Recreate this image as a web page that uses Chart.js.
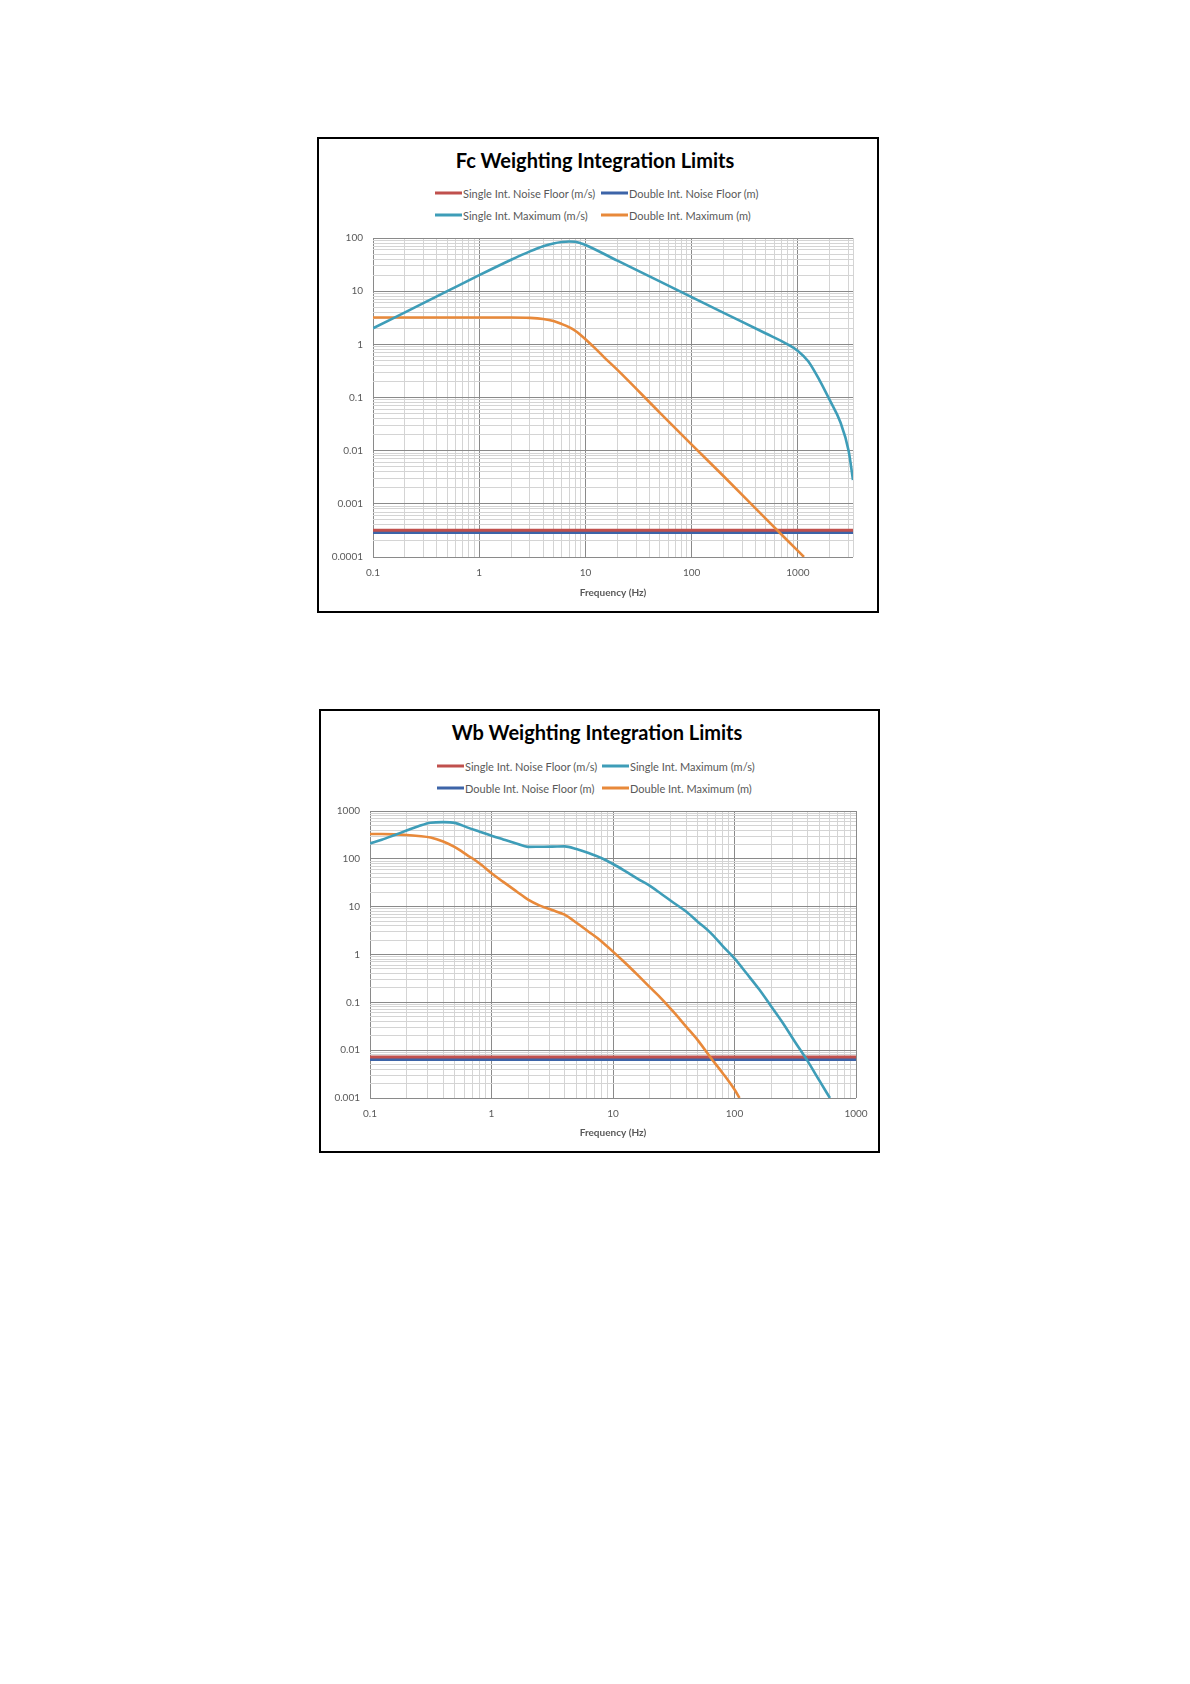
<!DOCTYPE html>
<html lang="en">
<head>
<meta charset="UTF-8">
<title>Integration Limits</title>
<script src="https://cdn.jsdelivr.net/npm/chart.js"></script>
<style>
  body { margin: 0; background: #fff; width: 1190px; height: 1684px; position: relative; font-family: Lato, "Liberation Sans", sans-serif; }
  .box { position: absolute; box-sizing: border-box; border: 2px solid #000; background: #fff; }
  .titulo { position: absolute; font-weight: bold; font-size: 20px; line-height: 24px; color: #000; white-space: nowrap; transform: translate(-50%, -50%); }
  .item { position: absolute; display: flex; align-items: center; transform: translateY(-50%); font-size: 11px; color: #595959; white-space: nowrap; }
  .item i { display: inline-block; width: 27px; height: 3px; margin-right: 1px; }
  .grafico { position: absolute; }
</style>
</head>
<body>

<div class="box" id="boxFc" style="left:317px; top:137px; width:562px; height:476px;">
  <div class="titulo" style="left:276px; top:21px;">Fc Weighting Integration Limits</div>
  <div id="legFc"></div>
  <div class="grafico" style="left:0; top:83px; width:558px; height:389px;">
    <canvas id="graficoFc" width="558" height="389"></canvas>
  </div>
</div>

<div class="box" id="boxWb" style="left:319px; top:709px; width:561px; height:444px;">
  <div class="titulo" style="left:276px; top:21px;">Wb Weighting Integration Limits</div>
  <div id="legWb"></div>
  <div class="grafico" style="left:0; top:84px; width:557px; height:356px;">
    <canvas id="graficoWb" width="557" height="356"></canvas>
  </div>
</div>

<script>
  // ---- Fc weighting ----
  const fcXLabels = ['0.1', '1', '10', '100', '1000']
  const fcYLabels = ['0.0001', '0.001', '0.01', '0.1', '1', '10', '100']
  const fcNoiseFreq = [0.1, 3300]
  const fcSingleNoise = [0.00032, 0.00032]
  const fcDoubleNoise = [0.00029, 0.00029]
  const fcSingleMaxFreq = [0.1, 0.2, 0.5, 1, 2, 3, 4, 5, 6, 7, 8, 9, 10, 20, 50, 100, 200, 500, 800, 1000, 1250, 1600, 2000, 2500, 3000, 3300]
  const fcSingleMax = [2.0, 4.0, 10, 20, 39, 56, 70, 79, 84, 86, 85, 80, 74, 37.5, 15.3, 7.7, 3.9, 1.6, 1.0, 0.75, 0.48, 0.21, 0.088, 0.035, 0.010, 0.0028]
  const fcDoubleMaxFreq = [0.1, 1, 2, 3, 4, 5, 6, 7, 8, 9, 10, 12.5, 15, 20, 50, 100, 200, 500, 1000, 1140]
  const fcDoubleMax = [3.2, 3.2, 3.2, 3.15, 3.0, 2.75, 2.4, 2.1, 1.8, 1.5, 1.25, 0.82, 0.57, 0.33, 0.052, 0.013, 0.0033, 0.00052, 0.00013, 0.0001]

  // ---- Wb weighting ----
  const wbXLabels = ['0.1', '1', '10', '100', '1000']
  const wbYLabels = ['0.001', '0.01', '0.1', '1', '10', '100', '1000']
  const wbNoiseFreq = [0.1, 1000]
  const wbSingleNoise = [0.0072, 0.0072]
  const wbDoubleNoise = [0.0064, 0.0064]
  const wbSingleMaxFreq = [0.1, 0.125, 0.16, 0.2, 0.25, 0.315, 0.4, 0.5, 0.63, 0.8, 1, 1.25, 1.6, 2, 2.5, 3.15, 4, 5, 6.3, 8, 10, 12.5, 16, 20, 25, 31.5, 40, 50, 63, 80, 100, 125, 160, 200, 250, 315, 400, 500, 610]
  const wbSingleMax = [210, 250, 315, 390, 480, 570, 585, 565, 455, 370, 305, 255, 210, 178, 179, 180, 182, 160, 132, 104, 78, 56, 38, 27.5, 18.4, 12.1, 7.9, 4.8, 2.9, 1.5, 0.83, 0.41, 0.185, 0.083, 0.037, 0.0148, 0.0059, 0.0023, 0.001]
  const wbDoubleMaxFreq = [0.1, 0.125, 0.16, 0.2, 0.25, 0.315, 0.4, 0.5, 0.63, 0.8, 1, 1.25, 1.6, 2, 2.5, 3.15, 4, 5, 6.3, 8, 10, 12.5, 16, 20, 25, 31.5, 40, 50, 63, 80, 100, 110]
  const wbDoubleMax = [330, 330, 325, 315, 300, 278, 230, 175, 120, 80, 50, 33, 21, 14, 10.5, 8.5, 6.8, 4.6, 3.0, 1.9, 1.15, 0.68, 0.37, 0.21, 0.12, 0.063, 0.031, 0.016, 0.0072, 0.0033, 0.0015, 0.001]

  const nomes = {
    sn: 'Single Int. Noise Floor (m/s)',
    dn: 'Double Int. Noise Floor (m)',
    sm: 'Single Int. Maximum (m/s)',
    dm: 'Double Int. Maximum (m)'
  }
  const cores = { sn: '#C0504D', dn: '#3D64A8', sm: '#3E9DB8', dm: '#E8893A' }

  const fonte = 'Lato, "Liberation Sans", sans-serif'

  function pares(xs, ys) {
    const out = []
    for (let i = 0; i < xs.length; i++) out.push({ x: xs[i], y: ys[i] })
    return out
  }

  // ticks 1..9 de cada decada (para as linhas de grade)
  function ticksLog(min, max) {
    const lista = []
    for (let k = Math.floor(Math.log10(min)); Math.pow(10, k) <= max; k++) {
      for (let m = 1; m <= 9; m++) {
        const v = Number((m * Math.pow(10, k)).toPrecision(6))
        if (v >= min * 0.999 && v <= max * 1.001) lista.push(v)
      }
    }
    if (lista[lista.length - 1] < max * 0.999) lista.push(max)
    return lista
  }

  function ehDecada(v) {
    const lg = Math.log10(v)
    return Math.abs(lg - Math.round(lg)) < 1e-6
  }

  function rotulo(v, labels, min) {
    if (!ehDecada(v)) return ''
    const i = Math.round(Math.log10(v)) - Math.round(Math.log10(min))
    return labels[i] || ''
  }

  function corGrade(ctx) {
    if (!ctx.tick) return '#d4d4d4'
    return ehDecada(ctx.tick.value) ? '#8a8a8a' : '#d4d4d4'
  }

  function escala(min, max, labels, extra) {
    return Object.assign({
      type: 'logarithmic',
      min: min,
      max: max,
      afterBuildTicks: function (s) {
        s.ticks = ticksLog(min, max).map(function (v) { return { value: v } })
      },
      grid: { drawTicks: false, color: corGrade, lineWidth: 1 },
      border: { display: false }
    }, extra)
  }

  function legenda(id, ordem, col2, y1, y2) {
    const el = document.getElementById(id)
    const pos = [[0, y1], [col2, y1], [0, y2], [col2, y2]]
    for (let i = 0; i < ordem.length; i++) {
      const d = document.createElement('div')
      d.className = 'item'
      d.style.left = (pos[i][0] + 116) + 'px'
      d.style.top = pos[i][1] + 'px'
      d.innerHTML = '<i style="background:' + cores[ordem[i]] + '"></i>' + nomes[ordem[i]]
      el.appendChild(d)
    }
  }

  function desenhar(canvasId, cfg) {
    const linhas = cfg.ordem.map(function (k) {
      return {
        label: nomes[k],
        data: pares(cfg.freq[k], cfg.vals[k]),
        borderColor: cores[k],
        backgroundColor: cores[k],
        borderWidth: (k === 'sn' || k === 'dn') ? 3 : 2.6,
        pointRadius: 0,
        fill: false,
        cubicInterpolationMode: 'monotone',
        order: k === 'sn' ? 1 : (k === 'dn' ? 2 : 0)
      }
    })

    new Chart(document.getElementById(canvasId).getContext('2d'), {
      type: 'line',
      data: { datasets: linhas },
      options: {
        responsive: false,
        animation: false,
        layout: { padding: { left: 0, right: cfg.padRight, top: cfg.padTop, bottom: 0 } },
        plugins: { legend: { display: false }, title: { display: false }, tooltip: { enabled: false } },
        scales: {
          x: escala(cfg.xmin, cfg.xmax, cfg.xLabels, {
            afterFit: function (s) { s.height = cfg.alturaX },
            ticks: {
              autoSkip: false, maxRotation: 0, padding: cfg.xPad, color: '#595959',
              font: { family: fonte, size: 10 },
              callback: function (v) { return rotulo(v, cfg.xLabels, cfg.xmin) }
            },
            title: {
              display: true, text: 'Frequency (Hz)', color: '#595959',
              font: { family: fonte, size: 10, weight: 'bold' },
              padding: { top: 0, bottom: cfg.titPad }
            }
          }),
          y: escala(cfg.ymin, cfg.ymax, cfg.yLabels, {
            afterFit: function (s) { s.width = cfg.larguraY },
            ticks: {
              autoSkip: false, padding: 10, color: '#595959',
              font: { family: fonte, size: 10 },
              callback: function (v) { return rotulo(v, cfg.yLabels, cfg.ymin) }
            }
          })
        }
      }
    })
  }

  legenda('legFc', ['sn', 'dn', 'sm', 'dm'], 166, 54, 76)
  legenda('legWb', ['sn', 'sm', 'dn', 'dm'], 165, 55, 77)

  desenhar('graficoFc', {
    ordem: ['sn', 'dn', 'sm', 'dm'],
    freq: { sn: fcNoiseFreq, dn: fcNoiseFreq, sm: fcSingleMaxFreq, dm: fcDoubleMaxFreq },
    vals: { sn: fcSingleNoise, dn: fcDoubleNoise, sm: fcSingleMax, dm: fcDoubleMax },
    xmin: 0.1, xmax: 3300, ymin: 0.0001, ymax: 100,
    xLabels: fcXLabels, yLabels: fcYLabels,
    larguraY: 54, padRight: 24, padTop: 14, alturaX: 54, xPad: 10, titPad: 12
  })

  desenhar('graficoWb', {
    ordem: ['sn', 'sm', 'dn', 'dm'],
    freq: { sn: wbNoiseFreq, dn: wbNoiseFreq, sm: wbSingleMaxFreq, dm: wbDoubleMaxFreq },
    vals: { sn: wbSingleNoise, dn: wbDoubleNoise, sm: wbSingleMax, dm: wbDoubleMax },
    xmin: 0.1, xmax: 1000, ymin: 0.001, ymax: 1000,
    xLabels: wbXLabels, yLabels: wbYLabels,
    larguraY: 49, padRight: 22, padTop: 15, alturaX: 53, xPad: 10, titPad: 12
  })
</script>
</body>
</html>
